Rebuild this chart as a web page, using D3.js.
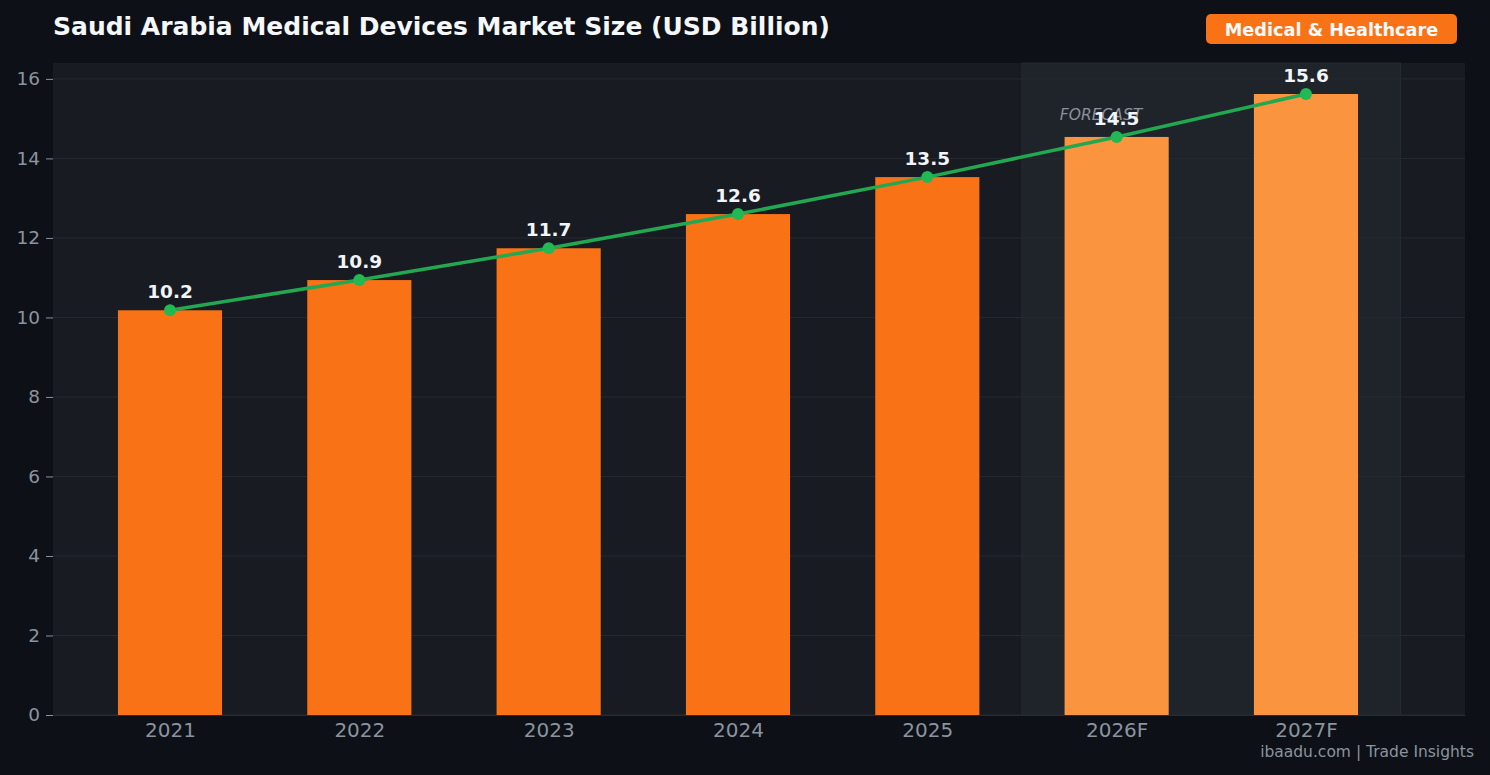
<!DOCTYPE html>
<html>
<head>
<meta charset="utf-8">
<script src="https://cdn.jsdelivr.net/npm/d3@7"></script>
<style>
  html, body { margin: 0; padding: 0; background: #0d1017; }
  svg { display: block; font-family: "DejaVu Sans", sans-serif; }
</style>
</head>
<body>
<svg id="chart"></svg>
<script>
// data
const years = ["2021", "2022", "2023", "2024", "2025", "2026F", "2027F"];
const marketSize = [10.18, 10.94, 11.74, 12.6, 13.53, 14.54, 15.62];
const isForecast = [false, false, false, false, false, true, true];
const yTicks = [0, 2, 4, 6, 8, 10, 12, 14, 16];

const W = 1490, H = 775;
const margin = { top: 63, right: 25, bottom: 60, left: 53 };
const width = W - margin.left - margin.right;
const height = H - margin.top - margin.bottom;

const svg = d3.select("#chart").attr("width", W).attr("height", H);
svg.append("rect").attr("width", W).attr("height", H).attr("fill", "#0d1017");

const g = svg.append("g").attr("transform", `translate(${margin.left},${margin.top})`);

// x as index positions, like a matplotlib category axis
const x = d3.scaleLinear().domain([-0.618, 6.84]).range([0, width]);
const y = d3.scaleLinear().domain([0, 16.4]).range([height, 0]);
const barW = x(0.55) - x(0);

// plot background
g.append("rect").attr("width", width).attr("height", height).attr("fill", "#181b22");

// forecast band
g.append("rect")
  .attr("x", x(4.5)).attr("y", 0)
  .attr("width", x(6.5) - x(4.5)).attr("height", height)
  .attr("fill", "#1f232a")
  .attr("stroke", "#262a31").attr("stroke-width", 1);

// grid
g.selectAll(".grid").data(yTicks).enter().append("line")
  .attr("x1", 0).attr("x2", width)
  .attr("y1", d => y(d)).attr("y2", d => y(d))
  .attr("stroke", "#262a31").attr("stroke-width", 1);

g.append("text")
  .attr("x", x(4.7)).attr("y", y(14.97))
  .attr("fill", "#8b919a").attr("font-size", 15.5).attr("font-style", "italic")
  .text("FORECAST");

// bars
g.selectAll(".bar").data(marketSize).enter().append("rect")
  .attr("x", (d, i) => x(i) - barW / 2)
  .attr("y", d => y(d))
  .attr("width", barW)
  .attr("height", d => height - y(d))
  .attr("fill", (d, i) => isForecast[i] ? "#fb943e" : "#f97316");

// trend line
const line = d3.line().x((d, i) => x(i)).y(d => y(d));
g.append("path").datum(marketSize)
  .attr("d", line)
  .attr("fill", "none")
  .attr("stroke", "#22a850")
  .attr("stroke-width", 3.5);

g.selectAll(".dot").data(marketSize).enter().append("circle")
  .attr("cx", (d, i) => x(i)).attr("cy", d => y(d))
  .attr("r", 6).attr("fill", "#22b955");

// value labels
g.selectAll(".lbl").data(marketSize).enter().append("text")
  .attr("x", (d, i) => x(i)).attr("y", d => y(d) - 12)
  .attr("text-anchor", "middle")
  .attr("fill", "#f1f5f9").attr("font-size", 18.5).attr("font-weight", "bold")
  .text(d => d.toFixed(1));

// axes
const yAxis = g.append("g")
  .call(d3.axisLeft(y).tickValues(yTicks).tickSize(7).tickPadding(6).tickFormat(d3.format("d")));
yAxis.select(".domain").remove();
yAxis.selectAll("line").attr("stroke", "#8b949e");
yAxis.selectAll("text").attr("fill", "#8b949e").attr("font-size", 18.5).attr("font-family", "DejaVu Sans");

const xAxis = g.append("g")
  .attr("transform", `translate(0,${height})`)
  .call(d3.axisBottom(x).tickValues(d3.range(years.length)).tickSize(0).tickPadding(8).tickFormat(i => years[i]));
xAxis.select(".domain").attr("stroke", "#262a31");
xAxis.selectAll("text").attr("fill", "#8b949e").attr("font-size", 20).attr("font-family", "DejaVu Sans");

// title
svg.append("text")
  .attr("x", 53).attr("y", 35)
  .attr("fill", "#f5f7fa").attr("font-size", 25).attr("font-weight", "bold")
  .text("Saudi Arabia Medical Devices Market Size (USD Billion)");

// badge
const badge = svg.append("g").attr("transform", "translate(1206,14)");
badge.append("rect").attr("width", 251).attr("height", 30).attr("rx", 5).attr("fill", "#f97316");
badge.append("text")
  .attr("x", 125.5).attr("y", 21.5)
  .attr("text-anchor", "middle")
  .attr("fill", "#f8fafc").attr("font-size", 17.7).attr("font-weight", "bold")
  .text("Medical & Healthcare");

// watermark
svg.append("text")
  .attr("x", 1474).attr("y", 757)
  .attr("text-anchor", "end")
  .attr("fill", "#8b949e").attr("font-size", 15.5)
  .text("ibaadu.com | Trade Insights");
</script>
</body>
</html>
